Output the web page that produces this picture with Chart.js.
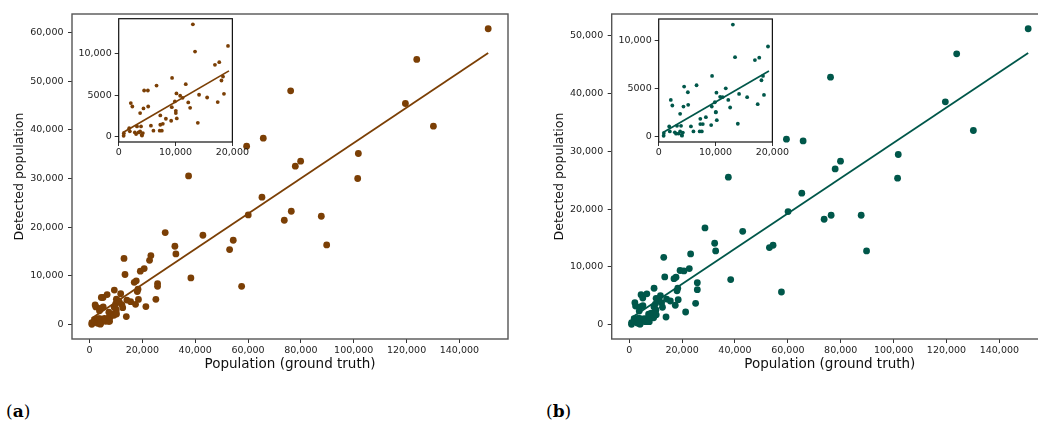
<!DOCTYPE html>
<html>
<head>
<meta charset="utf-8">
<script src="https://cdn.jsdelivr.net/npm/chart.js@4.4.1/dist/chart.umd.min.js"></script>
<style>
  html, body { margin: 0; padding: 0; background: #fff; overflow: hidden; }
  body { width: 1038px; height: 423px; position: relative; }
  canvas { position: absolute; }
  .tag { position: absolute; font: 17px 'DejaVu Serif', serif; line-height: 20px; color: #000; }
</style>
</head>
<body>
<canvas id="mainA" width="520" height="380" style="left:0;top:0"></canvas>
<canvas id="insetA" width="180" height="160" style="left:70px;top:10px"></canvas>
<canvas id="mainB" width="520" height="380" style="left:540px;top:0"></canvas>
<canvas id="insetB" width="180" height="160" style="left:610px;top:10px"></canvas>
<div class="tag" style="left:6px;top:401px">(<b>a</b>)</div>
<div class="tag" style="left:546px;top:401px">(<b>b</b>)</div>
<script>
// Detected vs. ground-truth population, two detectors (a) and (b)

// Ground truth population per area (shared x values)
const groundTruth = [
    870, 900, 1850, 1960, 2130, 2400, 2840, 3060, 3220, 3490,
    3770, 3770, 3930, 4040, 4100, 4250, 4360, 4475, 5130, 5190,
    5670, 6110, 6660, 7210, 7320, 7320, 7590, 7760, 8300, 9230,
    9340, 9390, 9880, 10050, 10050, 10160, 10220, 10810, 11250, 11800,
    12240, 12570, 13050, 13430, 13920, 14140, 15560, 16930, 17420, 17690,
    18080, 18350, 18520, 19230,
    20690, 21330, 22720, 23220, 25110, 25750, 25750, 28650, 32310, 32690,
    37490, 38370, 42920, 53020, 54400, 57570, 59460, 60080, 65270, 65770,
    73720, 76130, 76370, 77890, 79910, 87730, 89760, 101500, 101750, 119560,
    123850, 130160, 150890
];

// Detected population, panel (a)
const detectedA = [
    80, 380, 1000, 620, 4040, 3630, 480, 280, 1210, 480,
    2830, 600, 1210, 200, 100, 400, 3390, 5570, 5570, 3630,
    1300, 690, 6170, 690, 2540, 1410, 690, 1530, 2140, 1900,
    3550, 7100, 4240, 3100, 2830, 5210, 2180, 4930, 4680, 6340,
    4120, 3470, 13600, 10290, 1650, 5050, 4720, 8680, 4160, 9000,
    6780, 7260, 5170, 10980,
    11500, 3700, 13210, 14180, 5200, 8420, 7870, 18900, 16090, 14510,
    30540, 9580, 18350, 15410, 17320, 7870, 36640, 22530, 26160, 38290,
    21430, 48010, 23280, 32530, 33560, 22250, 16360, 30000, 35140, 45410,
    54450, 40750, 60750
];

// Detected population, panel (b)
const detectedB = [
    70, 350, 1040, 520, 3800, 3220, 420, 280, 1100, 300,
    2350, 520, 1100, 150, 80, 400, 3110, 5190, 4600, 3290,
    1040, 520, 5330, 520, 1830, 1280, 520, 1280, 2000, 1180,
    3110, 6300, 3560, 2560, 2500, 4560, 1690, 4120, 4100, 5010,
    3800, 3010, 11650, 8260, 1320, 4430, 4090, 7950, 3360, 8200,
    5850, 6300, 4320, 9370,
    9290, 2190, 9700, 12240, 3690, 7270, 6060, 16740, 14090, 12760,
    25520, 7800, 16160, 13340, 13740, 5650, 32100, 19580, 22750, 31810,
    18240, 42840, 18940, 26960, 28290, 18940, 12760, 25350, 29450, 38570,
    46890, 33610, 51220
];

// Linear fit end points (main plots and insets)
const fitX = [870, 150890];
const fitA = [1300, 55760];
const fitB = [1200, 47040];
const insetFitX = [760, 19400];
const insetFitA = [484, 7950];
const insetFitB = [415, 6810];

// Tick values
const mainXTicks = [0, 20000, 40000, 60000, 80000, 100000, 120000, 140000];
const mainYTicksA = [0, 10000, 20000, 30000, 40000, 50000, 60000];
const mainYTicksB = [0, 10000, 20000, 30000, 40000, 50000];
const insetXTicks = [0, 10000, 20000];
const insetYTicks = [0, 5000, 10000];

const insetLimit = 20000;

const FONT = 'DejaVu Sans';
const fmt = (v) => v >= 10000 ? v.toLocaleString('en-US') : String(v);

// Frame round the plot area (all four spines), optional white fill
const framePlugin = {
    id: 'frame',
    beforeDraw(chart, args, opts) {
        if (!opts.fill) return;
        const a = chart.chartArea;
        chart.ctx.save();
        chart.ctx.fillStyle = opts.fill;
        chart.ctx.fillRect(a.left, a.top, a.right - a.left, a.bottom - a.top);
        chart.ctx.restore();
    },
    afterDraw(chart, args, opts) {
        const a = chart.chartArea;
        const ctx = chart.ctx;
        ctx.save();
        ctx.strokeStyle = opts.color;
        ctx.lineWidth = opts.width;
        ctx.strokeRect(a.left, a.top, a.right - a.left, a.bottom - a.top);
        ctx.restore();
    }
};

function tickAxis(values, size, pad) {
    return {
        type: 'linear',
        afterBuildTicks: (s) => { s.ticks = values.map(v => ({ value: v })); },
        ticks: {
            font: { family: FONT, size: 9.5 },
            color: '#222',
            padding: pad,
            callback: (v) => fmt(v)
        },
        grid: { display: true, drawOnChartArea: false, drawTicks: true, tickLength: 4, color: '#333', tickWidth: 1 },
        border: { display: false }
    };
}

function mainChart(id, ys, fitY, color, yMin, yMax, yTicks, yWidth) {
    const points = groundTruth.map((x, i) => ({ x: x, y: ys[i] }));
    const line = fitX.map((x, i) => ({ x: x, y: fitY[i] }));

    const x = tickAxis(mainXTicks, 9.5, 1.5);
    x.min = -6630;
    x.max = 158390;
    x.afterFit = (s) => { s.height = 41; };
    x.title = {
        display: true,
        text: 'Population (ground truth)',
        font: { family: FONT, size: 13.5 },
        color: '#111',
        padding: { top: 0, bottom: 7 }
    };

    const y = tickAxis(yTicks, 9.5, 4.5);
    y.min = yMin;
    y.max = yMax;
    y.afterFit = (s) => { s.width = yWidth; };
    y.title = {
        display: true,
        text: 'Detected population',
        font: { family: FONT, size: 12.5 },
        color: '#111',
        padding: { top: 12.5, bottom: 0 }
    };

    return new Chart(document.getElementById(id), {
        type: 'scatter',
        data: {
            datasets: [
                { data: line, showLine: true, borderColor: color, borderWidth: 1.8, pointRadius: 0 },
                { data: points, backgroundColor: color, borderWidth: 0, pointRadius: 3.4 }
            ]
        },
        options: {
            responsive: false,
            animation: false,
            events: [],
            layout: { padding: { top: 14, right: 12, left: 0, bottom: 0 } },
            plugins: {
                legend: { display: false },
                tooltip: { enabled: false },
                frame: { color: '#555', width: 1.4 }
            },
            scales: { x: x, y: y }
        },
        plugins: [framePlugin]
    });
}

function insetChart(id, ys, fitY, color, yMin, yMax, padTop, padRight) {
    const points = [];
    groundTruth.forEach((x, i) => {
        if (x <= insetLimit) points.push({ x: x, y: ys[i] });
    });
    const line = insetFitX.map((x, i) => ({ x: x, y: fitY[i] }));

    const x = tickAxis(insetXTicks, 9.5, 1);
    x.min = 0;
    x.max = insetLimit;
    x.afterFit = (s) => { s.height = 28; };

    const y = tickAxis(insetYTicks, 9.5, 3);
    y.min = yMin;
    y.max = yMax;
    y.afterFit = (s) => { s.width = 48.7; };

    return new Chart(document.getElementById(id), {
        type: 'scatter',
        data: {
            datasets: [
                { data: line, showLine: true, borderColor: color, borderWidth: 1.7, pointRadius: 0 },
                { data: points, backgroundColor: color, borderWidth: 0, pointRadius: 1.9 }
            ]
        },
        options: {
            responsive: false,
            animation: false,
            events: [],
            layout: { padding: { top: padTop, right: padRight, left: 0, bottom: 0 } },
            plugins: {
                legend: { display: false },
                tooltip: { enabled: false },
                frame: { color: '#111', width: 1.2, fill: '#fff' }
            },
            scales: { x: x, y: y }
        },
        plugins: [framePlugin]
    });
}

const brown = '#7b3f05';
const teal = '#00574a';

mainChart('mainA', detectedA, fitA, brown, -2953, 63783, mainYTicksA, 72);
mainChart('mainB', detectedB, fitB, teal, -2487, 53777, mainYTicksB, 71.7);
insetChart('insetA', detectedA, insetFitA, brown, -680, 14280, 8.7, 8.3);
insetChart('insetB', detectedB, insetFitB, teal, -583, 12233, 9, 8.7);
</script>
</body>
</html>
